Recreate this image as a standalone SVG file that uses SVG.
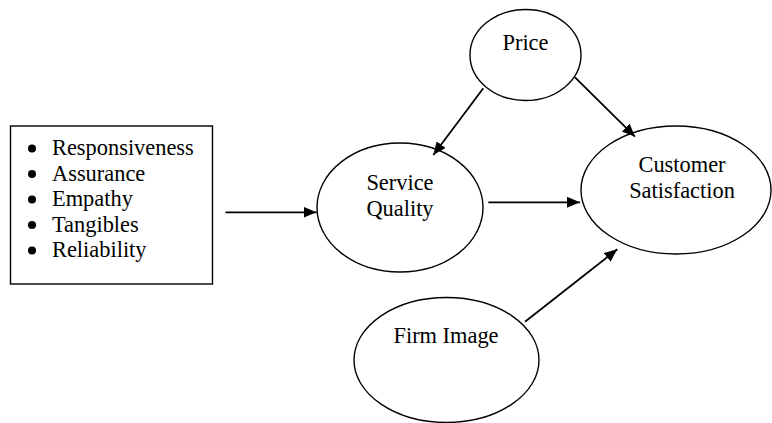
<svg xmlns="http://www.w3.org/2000/svg" width="772" height="423" viewBox="0 0 772 423">
<style>
.shape{fill:#fff;stroke:#000;stroke-width:1.4}
.lbl{font-family:"Liberation Serif","Times New Roman",serif;font-size:22.4px;fill:#000;text-anchor:middle}
.item{font-family:"Liberation Serif","Times New Roman",serif;font-size:22.4px;fill:#000}
.conn{stroke:#000;stroke-width:1.8;fill:none;marker-end:url(#ah)}
</style>
<defs>
<marker id="ah" markerUnits="userSpaceOnUse" markerWidth="13" markerHeight="11" refX="13" refY="5.5" orient="auto">
<path d="M0,0 L13,5.5 L0,11 z" fill="#000"/>
</marker>
</defs>
<rect width="772" height="423" fill="#fff"/>
<g id="dimensions">
<rect class="shape" x="10.5" y="126" width="202" height="158"/>
<g class="item">
<circle cx="32" cy="148.5" r="4" fill="#000"/>
<circle cx="32" cy="174" r="4" fill="#000"/>
<circle cx="32" cy="199.5" r="4" fill="#000"/>
<circle cx="32" cy="225" r="4" fill="#000"/>
<circle cx="32" cy="250.5" r="4" fill="#000"/>
<text x="52" y="155">Responsiveness</text>
<text x="52" y="180.5">Assurance</text>
<text x="52" y="206">Empathy</text>
<text x="52" y="231.5">Tangibles</text>
<text x="52" y="257">Reliability</text>
</g>
</g>
<g id="price">
<ellipse class="shape" cx="525.5" cy="55" rx="55.5" ry="45.5"/>
<text class="lbl" x="525.5" y="50">Price</text>
</g>
<g id="service-quality">
<ellipse class="shape" cx="400" cy="207.5" rx="83" ry="64.5"/>
<text class="lbl" x="400" y="190">Service</text>
<text class="lbl" x="400" y="216">Quality</text>
</g>
<g id="customer-satisfaction">
<ellipse class="shape" cx="676" cy="190" rx="95" ry="64"/>
<text class="lbl" x="682" y="171.5">Customer</text>
<text class="lbl" x="682" y="197.5">Satisfaction</text>
</g>
<g id="firm-image">
<ellipse class="shape" cx="446.5" cy="360" rx="92.5" ry="62.5"/>
<text class="lbl" x="446" y="342.5">Firm Image</text>
</g>
<g id="connectors">
<line class="conn" x1="225.5" y1="212.3" x2="316.5" y2="212.3"/>
<line class="conn" x1="483.3" y1="88.3" x2="433.3" y2="155"/>
<line class="conn" x1="575" y1="77.3" x2="635" y2="136.7"/>
<line class="conn" x1="488.3" y1="202.3" x2="580" y2="202.3"/>
<line class="conn" x1="525" y1="321.7" x2="617.3" y2="249.3"/>
</g>
</svg>
